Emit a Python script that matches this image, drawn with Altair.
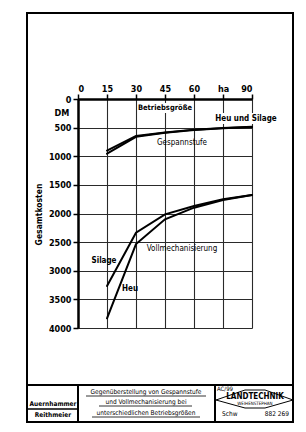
import altair as alt
import pandas as pd

# ---- data ----
hectares = [15, 30, 45, 60, 75, 90]
gespann_heu = [955, 660, 590, 540, 510, 488]
gespann_silage = [900, 645, 585, 535, 505, 485]
voll_silage = [3266, 2335, 2015, 1869, 1752, 1677]
voll_heu = [3831, 2533, 2101, 1898, 1765, 1677]

x_ticks = [0, 15, 30, 45, 60, 75, 90]
y_ticks = [0, 500, 1000, 1500, 2000, 2500, 3000, 3500, 4000]

FONT = "DejaVu Sans Condensed"

rows = []
for name, vals in [("Gespann Heu", gespann_heu), ("Gespann Silage", gespann_silage),
                   ("Voll Silage", voll_silage), ("Voll Heu", voll_heu)]:
    for h, v in zip(hectares, vals):
        rows.append({"series": name, "ha": h, "kosten": v})
df = pd.DataFrame(rows)

OX, OY = 78, 99  # plot origin in page pixels


def px(x):
    return alt.value(x - OX)


def py(y):
    return alt.value(y - OY)


xs = alt.Scale(domain=[0, 90], nice=False, zero=True)
ys = alt.Scale(domain=[0, 4000], nice=False, reverse=True)

lines = alt.Chart(df).mark_line(color="black", strokeWidth=2, strokeCap="round").encode(
    x=alt.X("ha:Q", scale=xs, axis=alt.Axis(
        orient="top", values=x_ticks, title=None, format="d",
        labelExpr="datum.value == 75 ? 'ha' : datum.label",
        grid=True, gridColor="#2a2a2a", gridWidth=1.1,
        domainColor="black", domainWidth=2.5, tickColor="black", tickWidth=1.5,
        tickSize=5, labelFont=FONT, labelFontWeight="bold", labelFontSize=9,
        labelColor="black", labelPadding=1)),
    y=alt.Y("kosten:Q", scale=ys, axis=alt.Axis(
        orient="left", values=y_ticks, title="Gesamtkosten", format="d",
        grid=True, gridColor="#2a2a2a", gridWidth=1.1,
        domainColor="black", domainWidth=2.5, tickColor="black", tickWidth=1.5,
        tickSize=5, labelFont=FONT, labelFontWeight="bold", labelFontSize=9,
        labelColor="black", labelPadding=2,
        titleFont=FONT, titleFontWeight="bold", titleFontSize=8.5, titleColor="black",
        titleX=43 - OX, titleY=214 - OY, titleAngle=270)),
    detail="series:N",
)


def txt(s, x, y, size=8, weight="normal", align="center"):
    return alt.Chart(pd.DataFrame({"t": [s]})).mark_text(
        font=FONT, fontSize=size, fontWeight=weight, align=align,
        baseline="middle", color="black").encode(x=px(x), y=py(y), text="t:N")


def rule(x1, y1, x2, y2, w=1.0):
    return alt.Chart(pd.DataFrame({"a": [0]})).mark_rule(color="black", strokeWidth=w).encode(
        x=px(x1), y=py(y1), x2=px(x2), y2=py(y2))


def wbox(x1, y1, x2, y2):
    return alt.Chart(pd.DataFrame({"a": [0]})).mark_rect(color="white").encode(
        x=px(x1), y=py(y1), x2=px(x2), y2=py(y2))


frame = alt.Chart(pd.DataFrame({"a": [0]})).mark_rect(
    filled=False, stroke="black", strokeWidth=2).encode(
    x=px(27), x2=px(293), y=py(13), y2=py(422))

layers = [
    wbox(140, 103, 191, 113),
    wbox(214, 113, 278, 124),
    lines,
    frame,
    txt("Betriebsgröße", 165, 108, 7.5, "bold"),
    txt("Heu  und  Silage", 246, 119, 8, "bold"),
    txt("Gespannstufe", 182, 143, 8),
    txt("Vollmechanisierung", 182, 249, 8),
    txt("Silage", 104, 261, 8, "bold"),
    txt("Heu", 122, 289, 8, "bold", "left"),
    txt("DM", 62, 113, 9, "bold"),
    # title block
    rule(27, 385, 293, 385, 2),
    rule(78, 385, 78, 422, 2),
    rule(215, 385, 215, 422, 2),
    rule(27, 409, 78, 409, 1.5),
    txt("Auernhammer", 53, 404, 6.5, "bold"),
    txt("Reithmeier", 53, 415, 6.5, "bold"),
    txt("Gegenüberstellung  von  Gespannstufe", 146, 392, 6.5),
    txt("und  Vollmechanisierung  bei", 146, 402, 6.5),
    txt("unterschiedlichen  Betriebsgrößen", 146, 413, 6.5),
    rule(86, 396, 206, 396, 0.8),
    rule(99, 406, 192, 406, 0.8),
    rule(92, 417, 200, 417, 0.8),
    txt("AC/99", 217, 389, 6, "normal", "left"),
    rule(216, 400, 245, 390, 1),
    rule(245, 390, 265, 390, 1),
    rule(265, 390, 293, 400, 1),
    rule(293, 400, 265, 408, 1),
    rule(265, 408, 245, 408, 1),
    rule(245, 408, 216, 400, 1),
    txt("LANDTECHNIK", 255, 397, 8, "bold"),
    txt("WEIHENSTEPHAN", 255, 404, 4.5),
    txt("Schw", 222, 414, 6.5, "normal", "left"),
    txt("882  269", 289, 414, 6.5, "normal", "right"),
]

chart = alt.layer(*layers).properties(
    width=252 - OX, height=328 - OY,
    autosize=alt.AutoSizeParams(type="none"),
    padding={"left": OX, "top": OY, "right": 306 - 252, "bottom": 432 - 328},
    background="white",
).configure_view(stroke=None)

chart.save("out.html", embed_options={"renderer": "svg", "actions": False})
